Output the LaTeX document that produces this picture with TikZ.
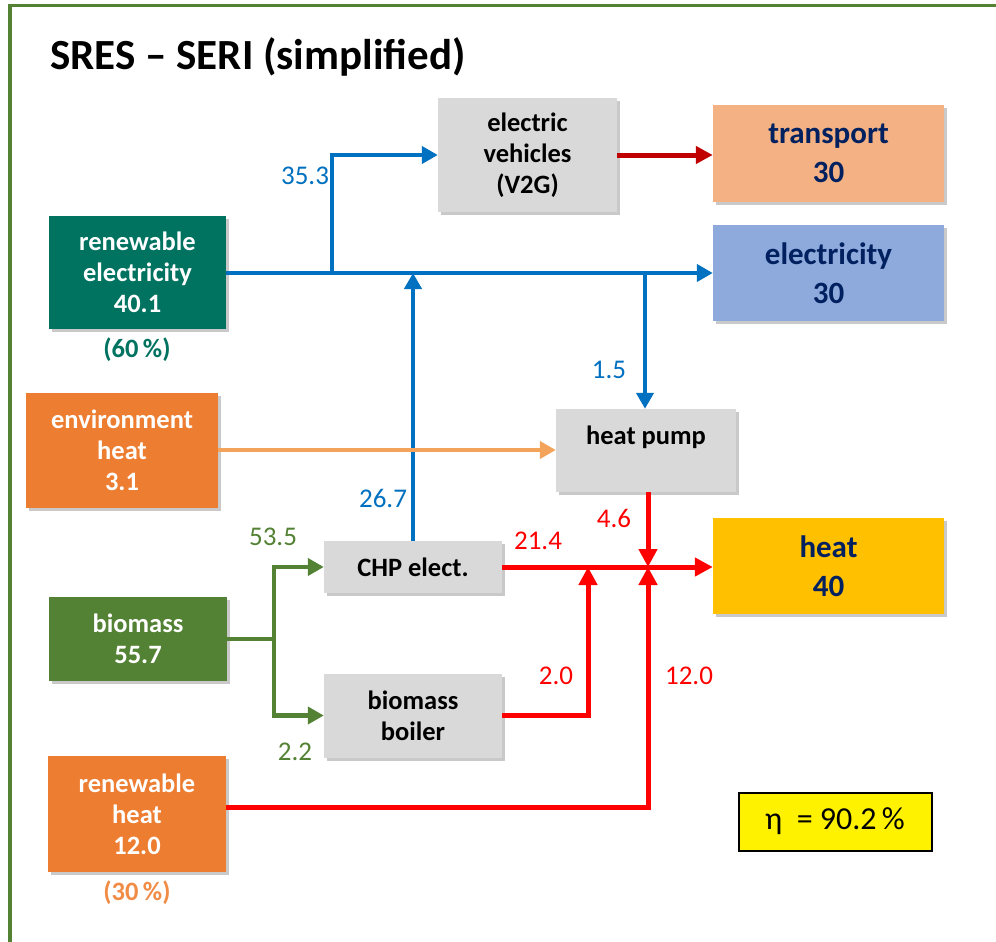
\documentclass[tikz,border=0pt]{standalone}
\usepackage{fontspec}
\setmainfont{Carlito}
\usetikzlibrary{arrows.meta,shadows}
\definecolor{frameg}{RGB}{84,130,53}
\definecolor{teal1}{RGB}{0,114,96}
\definecolor{orng}{RGB}{237,125,49}
\definecolor{lorng}{RGB}{244,163,90}
\definecolor{pct}{RGB}{240,140,70}
\definecolor{grayb}{RGB}{217,217,217}
\definecolor{transp}{RGB}{244,177,131}
\definecolor{elec}{RGB}{142,169,219}
\definecolor{heatc}{RGB}{255,192,0}
\definecolor{navy}{RGB}{0,32,96}
\definecolor{bluea}{RGB}{0,112,192}
\definecolor{reda}{RGB}{255,0,0}
\definecolor{dreda}{RGB}{192,0,0}
\tikzset{
  box/.style={rectangle, inner sep=0pt, align=center, draw=none,
    drop shadow={shadow xshift=3pt, shadow yshift=-3pt, opacity=0.35, fill=black!60},
    font=\fontsize{26.5}{31}\selectfont\bfseries},
  srcbox/.style={box, text=white},
  procbox/.style={box, fill=grayb, text=black},
  outbox/.style={box, text=navy, font=\fontsize{31}{39}\selectfont\bfseries},
  num/.style={font=\fontsize{27}{30}\selectfont, inner sep=0pt},
  pctlab/.style={font=\fontsize{26.5}{30}\selectfont\bfseries, inner sep=0pt},
  bluearr/.style={draw=bluea, line width=4.5pt, -{Triangle[length=16pt,width=17pt]}},
  redarr/.style={draw=reda, line width=5pt, -{Triangle[length=18pt,width=18pt]}},
  orarr/.style={draw=lorng, line width=4pt, -{Triangle[length=16pt,width=17pt]}},
  grarr/.style={draw=frameg, line width=4.5pt, -{Triangle[length=16pt,width=17pt]}},
}
\begin{document}
\begin{tikzpicture}[x=1pt,y=-1pt]
\useasboundingbox (0,0) rectangle (996,942);
\fill[white] (0,0) rectangle (996,942);
\draw[frameg, line width=3.5pt] (10,942) -- (10,5.5) -- (996,5.5);

\node[anchor=base west, inner sep=0pt, font=\fontsize{43}{48}\selectfont\bfseries] (title) at (50,70) {SRES – SERI (simplified)};

% source boxes
\node[srcbox, fill=teal1, minimum width=177pt, minimum height=113pt] (re) at (137.5,272.5) {renewable\\electricity\\40.1};
\node[pctlab, text=teal1] (rep) at (137,350) {(60\,\%)};
\node[srcbox, fill=orng, minimum width=192pt, minimum height=115pt] (env) at (122,450) {environment\\heat\\3.1};
\node[srcbox, fill=frameg, minimum width=178pt, minimum height=84pt] (bio) at (138,639) {biomass\\55.7};
\node[srcbox, fill=orng, minimum width=178pt, minimum height=116pt] (rh) at (137,814) {renewable\\heat\\12.0};
\node[pctlab, text=pct] (rhp) at (137,893) {(30\,\%)};

% process boxes
\node[procbox, minimum width=179pt, minimum height=114pt] (ev) at (527.5,155) {electric\\vehicles\\(V2G)};
\node[procbox, minimum width=180pt, minimum height=83pt, text depth=30pt] (hp) at (646,450.5) {heat pump};
\node[procbox, minimum width=178pt, minimum height=52pt] (chp) at (413,567) {CHP elect.};
\node[procbox, minimum width=178pt, minimum height=84pt] (boil) at (413,715.5) {biomass\\boiler};

% output boxes
\node[outbox, fill=transp, minimum width=231pt, minimum height=97pt] (tr) at (828.5,153.5) {transport\\30};
\node[outbox, fill=elec, minimum width=231pt, minimum height=96pt] (el) at (828.5,273) {electricity\\30};
\node[outbox, fill=heatc, minimum width=231pt, minimum height=96pt] (heat) at (828.5,566) {heat\\40};

% efficiency
\node[draw=black, line width=2pt, fill=yellow, minimum width=193pt, minimum height=58pt, inner sep=0pt, font=\fontsize{32}{36}\selectfont] (eta) at (835,821.5) {η\ \ = 90.2\,\%};

% junction coordinates
\coordinate (j1) at (332,273);
\coordinate (j2) at (645,273);
\coordinate (jh) at (648,567);
\coordinate (j3) at (588,567);
\coordinate (jb) at (274,639);

% blue
\draw[bluearr] (re.east |- j1) -- (el.west |- j1);
\draw[bluearr] (j1) |- (ev.west);
\draw[bluearr] (chp.north) -- (chp.north |- j1);
\draw[bluearr] (j2) -- (j2 |- hp.north);
% orange
\draw[orarr] (env.east) -- (env.east -| hp.west);
% red
\draw[draw=dreda, line width=5pt, -{Triangle[length=17pt,width=17pt]}] (ev.east) -- (ev.east -| tr.west);
\draw[redarr] (chp.east) -- (chp.east -| heat.west);
\draw[redarr] (hp.south -| jh) -- (jh);
\draw[redarr] (boil.east) -| (j3);
\draw[redarr] ([yshift=7pt]rh.east) -| (jh);
% green
\draw[draw=frameg, line width=4.5pt] (bio.east) -- (jb);
\draw[grarr] (jb) |- (chp.west);
\draw[grarr] (jb) |- (boil.west);

% labels
\node[num, text=bluea] (l353) at (305,176) {35.3};
\node[num, text=bluea] (l267) at (383,498) {26.7};
\node[num, text=bluea] (l15) at (609,370) {1.5};
\node[num, text=reda] (l214) at (538,541) {21.4};
\node[num, text=reda] (l46) at (614,518) {4.6};
\node[num, text=reda] (l20) at (556,676) {2.0};
\node[num, text=reda] (l120) at (689,676) {12.0};
\node[num, text=frameg] (l535) at (273,537) {53.5};
\node[num, text=frameg] (l22) at (295,752) {2.2};
\end{tikzpicture}
\end{document}
